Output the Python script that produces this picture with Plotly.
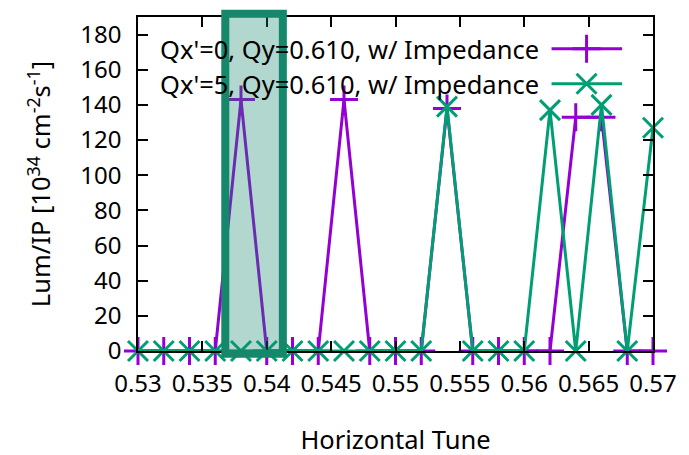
import plotly.graph_objects as go

tune = [0.530, 0.532, 0.534, 0.536, 0.538, 0.540, 0.542, 0.544, 0.546, 0.548, 0.550,
        0.552, 0.554, 0.556, 0.558, 0.560, 0.562, 0.564, 0.566, 0.568, 0.570]
lum_qx0 = [0, 0, 0, 0, 143, 0, 0, 0, 143, 0, 0,
           0, 138, 0, 0, 0, 0, 133, 133, 0, 0]
lum_qx5 = [0, 0, 0, 0, 0, 0, 0, 0, 0, 0, 0,
           0, 139, 0, 0, 0, 137, 0, 140, 0, 127]
names = ["Qx'=0, Qy=0.610, w/ Impedance", "Qx'=5, Qy=0.610, w/ Impedance"]
x_ticks = [0.53, 0.535, 0.54, 0.545, 0.55, 0.555, 0.56, 0.565, 0.57]
x_tick_text = ["0.53", "0.535", "0.54", "0.545", "0.55", "0.555", "0.56", "0.565", "0.57"]
y_ticks = [0, 20, 40, 60, 80, 100, 120, 140, 160, 180]

PURPLE = "#9400d3"
GREEN = "#009e73"
FONT = "Noto Sans"
FS = 24
FS_TXT = 25.5

fig = go.Figure()
fig.add_trace(go.Scatter(x=tune, y=lum_qx0, mode="lines+markers", name=names[0],
                         line=dict(color=PURPLE, width=3),
                         marker=dict(symbol="cross-thin", size=20, line=dict(color=PURPLE, width=3)),
                         cliponaxis=False, showlegend=False))
fig.add_trace(go.Scatter(x=tune, y=lum_qx5, mode="lines+markers", name=names[1],
                         line=dict(color=GREEN, width=3),
                         marker=dict(symbol="x-thin", size=20, line=dict(color=GREEN, width=3)),
                         cliponaxis=False, showlegend=False))

# custom gnuplot-style legend (text then sample)
leg_y = [0.905, 0.80]
for nm, col, sym, ly in zip(names, [PURPLE, GREEN], ["cross-thin", "x-thin"], leg_y):
    fig.add_annotation(xref="paper", yref="paper", x=0.782, y=ly, text=nm, showarrow=False,
                       xanchor="right", yanchor="middle", font=dict(family=FONT, size=FS_TXT, color="black"))
    fig.add_trace(go.Scatter(x=[0.803, 0.94], y=[ly, ly], xaxis="x2", yaxis="y2",
                             mode="lines", line=dict(color=col, width=3),
                             showlegend=False, hoverinfo="skip"))
    fig.add_trace(go.Scatter(x=[0.871], y=[ly], xaxis="x2", yaxis="y2", mode="markers",
                             marker=dict(symbol=sym, size=20, line=dict(color=col, width=3)),
                             showlegend=False, hoverinfo="skip"))

# highlight box
fig.add_shape(type="rect", xref="x", yref="paper", x0=0.53678, x1=0.54125, y0=-0.008, y1=1.01,
              line=dict(color="#15876a", width=8), fillcolor="rgba(21,135,106,0.33)", layer="above")

axis_common = dict(showgrid=False, zeroline=False, showline=True, linecolor="black", linewidth=1.5,
                   mirror="ticks", ticks="inside", ticklen=10, tickwidth=1.5, tickcolor="black",
                   tickfont=dict(family=FONT, size=FS, color="black"), ticklabelstandoff=10)
fig.update_layout(
    width=689, height=455,
    margin=dict(l=130, r=44, t=7, b=112),
    paper_bgcolor="white", plot_bgcolor="white",
    xaxis=dict(range=[0.53, 0.57], tickvals=x_ticks, ticktext=x_tick_text,
               title=dict(text="Horizontal Tune", font=dict(family=FONT, size=FS_TXT, color="black"), standoff=34),
               **axis_common),
    yaxis=dict(range=[0, 190], tickvals=y_ticks,
               title=dict(text="Lum/IP [10<sup>34</sup> cm<sup>-2</sup>s<sup>-1</sup>]",
                          font=dict(family=FONT, size=FS_TXT, color="black"), standoff=22),
               **axis_common),
    xaxis2=dict(domain=[0, 1], range=[0, 1], visible=False, overlaying="x", anchor="y2"),
    yaxis2=dict(domain=[0, 1], range=[0, 1], visible=False, overlaying="y", anchor="x2"),
    font=dict(family=FONT, size=FS, color="black"),
)
fig.write_html("out.html")
